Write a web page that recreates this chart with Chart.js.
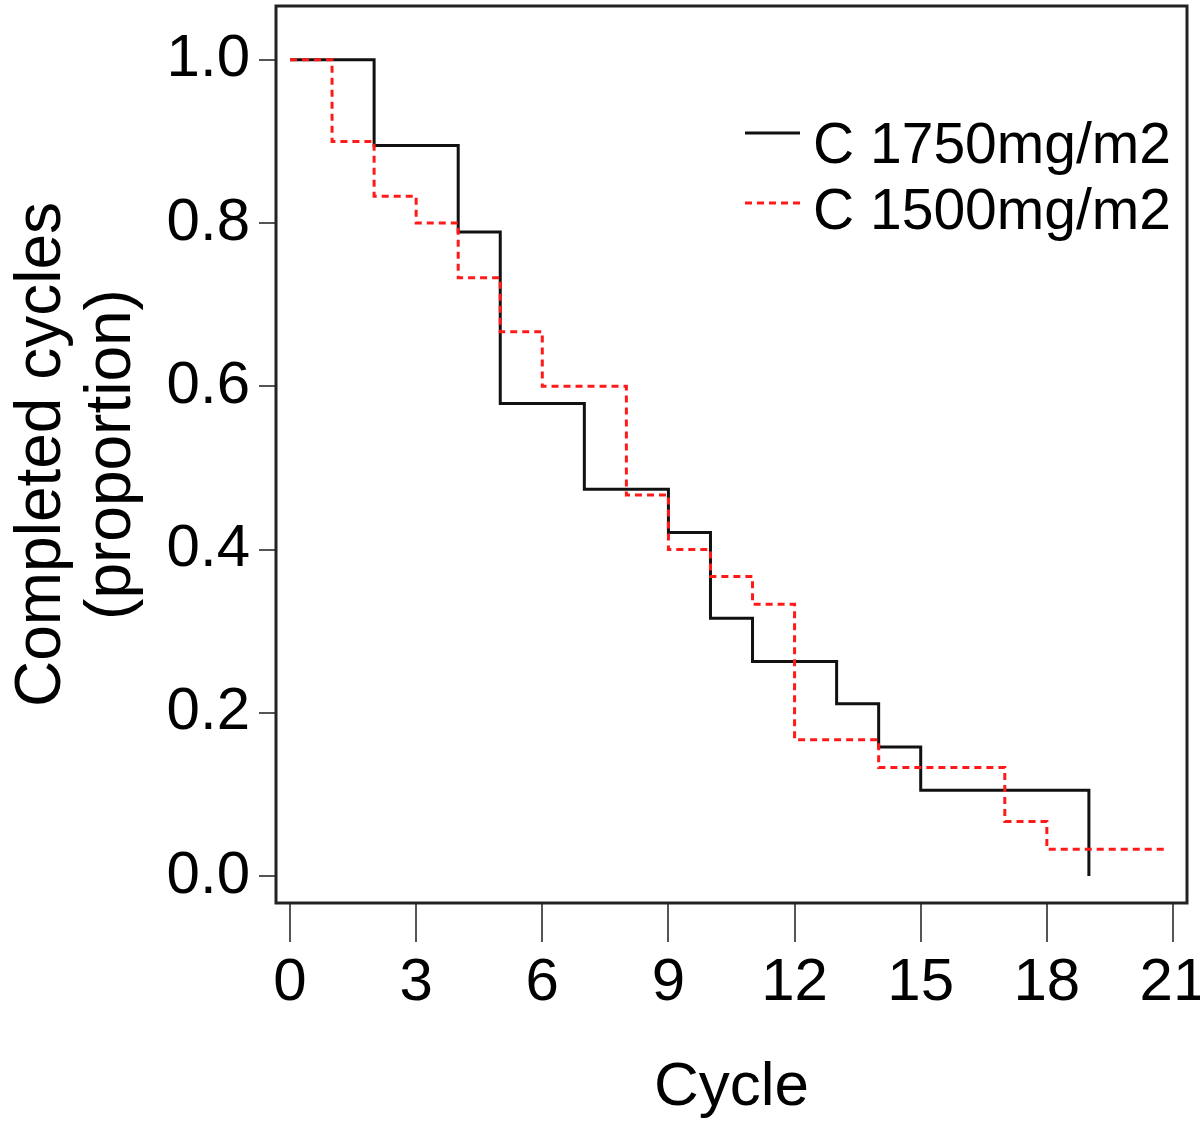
<!DOCTYPE html>
<html>
<head>
<meta charset="utf-8">
<script src="https://cdn.jsdelivr.net/npm/chart.js@4/dist/chart.umd.min.js"></script>
<style>
  html, body { margin: 0; padding: 0; background: #fff; }
  #chart { display: block; }
</style>
</head>
<body>
<canvas id="chart" width="1200" height="1132"></canvas>
<script>
// C 1750mg/m2 (black solid) step points: cycle, proportion after the drop
const cycles1750 = [0, 2, 4, 5, 7, 9, 10, 11, 13, 14, 15, 19];
const prop1750 = [1, 0.895, 0.789, 0.579, 0.474, 0.421, 0.316, 0.263, 0.211, 0.158, 0.105, 0];

// C 1500mg/m2 (red dashed)
const cycles1500 = [0, 1, 2, 3, 4, 5, 6, 8, 9, 10, 11, 12, 14, 17, 18, 20.9];
const prop1500 = [1, 0.9, 0.833, 0.8, 0.733, 0.667, 0.6, 0.467, 0.4, 0.367, 0.333, 0.167, 0.133, 0.067, 0.033, 0.033];

const xTicks = [0, 3, 6, 9, 12, 15, 18, 21];
const yTicks = [0, 0.2, 0.4, 0.6, 0.8, 1.0];
const seriesLabels = ['C 1750mg/m2', 'C 1500mg/m2'];

const FONT = "'Liberation Sans', Arial, Helvetica, sans-serif";

const toPoints = (xs, ys) => xs.map((x, i) => ({ x: x, y: ys[i] }));

// frame round the plot + the legend in the top right
const boxAndLegend = {
  id: 'boxAndLegend',
  afterDraw(chart) {
    const { ctx, chartArea: a } = chart;
    ctx.save();
    ctx.strokeStyle = '#222';
    ctx.lineWidth = 3;
    ctx.strokeRect(a.left, a.top, a.right - a.left, a.bottom - a.top);

    const rows = [
      { ds: chart.data.datasets[0], lineY: 133, textY: 147 },
      { ds: chart.data.datasets[1], lineY: 203, textY: 213 }
    ];
    ctx.font = '57px ' + FONT;
    ctx.textBaseline = 'middle';
    ctx.textAlign = 'left';
    rows.forEach(r => {
      ctx.beginPath();
      ctx.strokeStyle = r.ds.borderColor;
      ctx.lineWidth = r.ds.borderWidth;
      ctx.setLineDash(r.ds.borderDash || []);
      ctx.moveTo(745, r.lineY);
      ctx.lineTo(800, r.lineY);
      ctx.stroke();
      ctx.setLineDash([]);
      ctx.fillStyle = '#000';
      ctx.fillText(r.ds.label, 813, r.textY);
    });
    ctx.restore();
  }
};

new Chart(document.getElementById('chart'), {
  type: 'line',
  data: {
    datasets: [
      {
        label: seriesLabels[0],
        data: toPoints(cycles1750, prop1750),
        borderColor: '#111',
        borderWidth: 3,
        stepped: true,
        pointRadius: 0,
        order: 1
      },
      {
        label: seriesLabels[1],
        data: toPoints(cycles1500, prop1500),
        borderColor: '#ff1a1a',
        borderWidth: 3,
        borderDash: [7, 5],
        stepped: true,
        pointRadius: 0,
        order: 0
      }
    ]
  },
  options: {
    responsive: false,
    animation: false,
    events: [],
    layout: { padding: { top: 6, right: 13, left: 0, bottom: 0 } },
    plugins: { legend: { display: false }, tooltip: { enabled: false } },
    scales: {
      x: {
        type: 'linear',
        min: -1 / 3,
        max: 21 + 1 / 3,
        afterBuildTicks: s => { s.ticks = xTicks.map(v => ({ value: v })); },
        afterFit: s => { s.height = 229; s.paddingLeft = 0; s.paddingRight = 0; },
        border: { display: false },
        grid: { drawOnChartArea: false, drawTicks: true, tickLength: 39, tickColor: '#555', lineWidth: 2 },
        ticks: {
          color: '#000',
          font: { family: FONT, size: 60 },
          padding: 5,
          maxRotation: 0,
          autoSkip: false,
          callback: v => String(v)
        },
        title: {
          display: true,
          text: 'Cycle',
          color: '#000',
          font: { family: FONT, size: 62, lineHeight: 1 },
          padding: { top: 0, bottom: 13 }
        }
      },
      y: {
        type: 'linear',
        min: -0.033,
        max: 1.066,
        afterBuildTicks: s => { s.ticks = yTicks.map(v => ({ value: v })); },
        afterFit: s => { s.width = 276; s.paddingTop = 0; s.paddingBottom = 0; },
        border: { display: false },
        grid: { drawOnChartArea: false, drawTicks: true, tickLength: 17, tickColor: '#555', lineWidth: 2 },
        ticks: {
          color: '#000',
          font: { family: FONT, size: 60 },
          padding: 9,
          autoSkip: false,
          callback: v => v.toFixed(1)
        },
        title: {
          display: true,
          text: ['Completed cycles', '(proportion)'],
          color: '#000',
          font: { family: FONT, size: 64, lineHeight: 1.094 },
          padding: { top: 7, bottom: 0 }
        }
      }
    }
  },
  plugins: [boxAndLegend]
});
</script>
</body>
</html>
